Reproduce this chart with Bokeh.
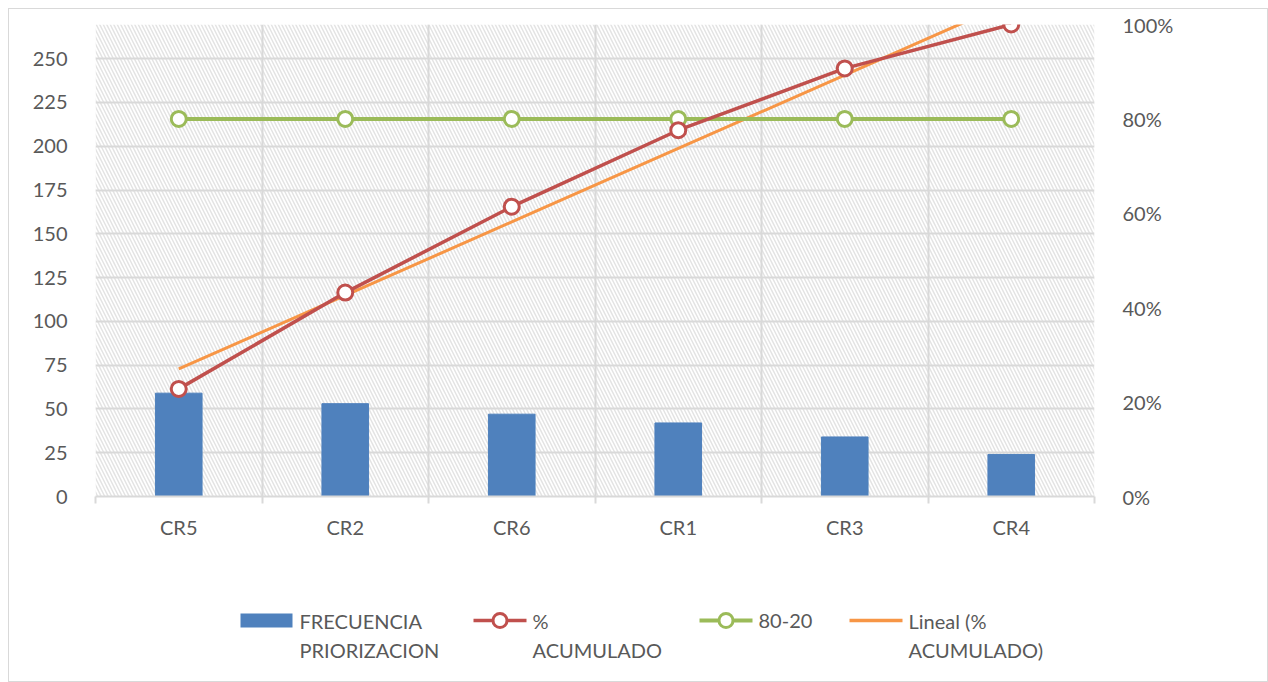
from bokeh.plotting import figure
from bokeh.layouts import column
from bokeh.models import (Range1d, LinearAxis, FixedTicker, NumeralTickFormatter,
                          BoxAnnotation, ColumnDataSource)
from bokeh.core.properties import value
from bokeh.embed import file_html
from bokeh.resources import INLINE

categories = ["CR5", "CR2", "CR6", "CR1", "CR3", "CR4"]
frecuencia = [59, 53, 47, 42, 34, 24]
pct_acumulado = [0.228, 0.432, 0.614, 0.776, 0.907, 1.0]
regla_80_20 = [0.8, 0.8, 0.8, 0.8, 0.8, 0.8]
left_ticks = [0, 25, 50, 75, 100, 125, 150, 175, 200, 225, 250]
right_ticks = [0, 0.2, 0.4, 0.6, 0.8, 1.0]
legend_labels = [["FRECUENCIA", "PRIORIZACION"], ["%", "ACUMULADO"], ["80-20"],
                 ["Lineal (%", "ACUMULADO)"]]

n = len(categories)
xc = [i + 0.5 for i in range(n)]
bounds = list(range(n + 1))

# linear trendline of % acumulado (least squares on 1..n)
xs = list(range(1, n + 1))
mx = sum(xs) / n
my = sum(pct_acumulado) / n
slope = sum((a - mx) * (b - my) for a, b in zip(xs, pct_acumulado)) / sum((a - mx) ** 2 for a in xs)
icpt = my - slope * mx
trend = [icpt + slope * a for a in xs]

FONT = "Lato"
TXT = "#595959"
GRID = "#d9d9d9"
BLUE, RED, GREEN, ORANGE = "#4f81bd", "#c0504d", "#9bbb59", "#f79646"

W = 1258
H1 = 547
H2 = 125
BL, BR = 86, 173   # left / right borders around the plotting frame
FW = W - BL - BR

p = figure(width=W, height=H1, output_backend="svg", toolbar_location=None,
           x_range=Range1d(0, n), y_range=Range1d(0, 269.5),
           min_border_left=BL, min_border_right=BR, min_border_top=15, min_border_bottom=H1 - 15 - 472)
p.extra_y_ranges = {"pct": Range1d(0, 1)}
p.outline_line_color = None

hatch = BoxAnnotation(fill_color="white", fill_alpha=1, line_color=None,
                      hatch_pattern="\\", hatch_color="#e4e4e4", hatch_scale=7, hatch_weight=1.5)
hatch.level = "image"
p.add_layout(hatch)

# axes
p.xaxis.ticker = FixedTicker(ticks=xc, minor_ticks=bounds)
p.xaxis.major_label_overrides = {x: c for x, c in zip(xc, categories)}
p.xaxis.major_tick_line_color = None
p.xaxis.minor_tick_line_color = GRID
p.xaxis.minor_tick_line_width = 2
p.xaxis.minor_tick_out = 7
p.xaxis.minor_tick_in = 0
p.xaxis.axis_line_color = GRID
p.xaxis.axis_line_width = 2
p.xaxis.major_label_standoff = 11

p.yaxis.ticker = FixedTicker(ticks=left_ticks)
p.yaxis.axis_line_color = None
p.yaxis.major_tick_line_color = None
p.yaxis.minor_tick_line_color = None
p.yaxis.major_label_standoff = 22

ra = LinearAxis(y_range_name="pct", ticker=FixedTicker(ticks=right_ticks),
                formatter=NumeralTickFormatter(format="0%"))
ra.axis_line_color = None
ra.major_tick_line_color = None
ra.minor_tick_line_color = None
ra.major_label_standoff = 22
p.add_layout(ra, "right")

for ax in [p.xaxis[0], p.yaxis[0], ra]:
    ax.major_label_text_font = FONT
    ax.major_label_text_font_size = "20px"
    ax.major_label_text_color = TXT

p.xgrid.ticker = FixedTicker(ticks=bounds)
p.ygrid.ticker = FixedTicker(ticks=left_ticks)
for g in [p.xgrid[0], p.ygrid[0]]:
    g.grid_line_color = GRID
    g.grid_line_width = 2

src = ColumnDataSource(dict(x=xc, f=frecuencia, pa=pct_acumulado, r=regla_80_20, t=trend))

p.vbar(x="x", top="f", width=0.28, source=src, color=BLUE)
p.line(x="x", y="t", source=src, y_range_name="pct", line_color=ORANGE, line_width=3)
p.line(x="x", y="r", source=src, y_range_name="pct", line_color=GREEN, line_width=4)
p.scatter(x="x", y="r", source=src, y_range_name="pct", size=15, fill_color="white",
          line_color=GREEN, line_width=3)
p.line(x="x", y="pa", source=src, y_range_name="pct", line_color=RED, line_width=3.5)
p.scatter(x="x", y="pa", source=src, y_range_name="pct", size=15, fill_color="white",
          line_color=RED, line_width=3)

# ---- legend panel: a pixel-space figure below the chart (frame aligned with chart) ----
q = figure(width=W, height=H2, output_backend="svg", toolbar_location=None,
           x_range=Range1d(BL, BL + FW), y_range=Range1d(H2, 0),
           min_border_left=BL, min_border_right=BR, min_border_top=0, min_border_bottom=0,
           x_axis_type=None, y_axis_type=None)
q.outline_line_color = None
q.grid.visible = False

row1 = 64       # y of first text row inside legend panel
lh = 29         # line height
sw_x = [231, 464, 690, 840]   # swatch left edges (pixels from panel left)
sw_w = 53
kinds = ["bar", "line_marker", "line_marker", "line"]
colors = [BLUE, RED, GREEN, ORANGE]
for sx, kind, col, labs in zip(sw_x, kinds, colors, legend_labels):
    if kind == "bar":
        q.quad(left=[sx], right=[sx + sw_w - 1], top=[row1 - 7], bottom=[row1 + 7],
               fill_color=col, line_color=None)
    else:
        lw = 4 if col == GREEN else 3.5
        q.line(x=[sx, sx + sw_w], y=[row1, row1], line_color=col, line_width=lw)
        if kind == "line_marker":
            q.scatter(x=[sx + sw_w / 2], y=[row1], size=14, fill_color="white",
                      line_color=col, line_width=3)
    q.text(x=[sx + sw_w + 6] * len(labs), y=[row1 + i * lh for i in range(len(labs))],
           text=labs, text_font=value(FONT), text_font_size="20px", text_color=TXT,
           text_align="left", text_baseline="middle")

lay = column(p, q, spacing=0)
lay.styles = {"border": "1px solid #d9d9d9", "margin-left": "8px", "margin-top": "8px"}

open("out.html", "w").write(file_html(lay, INLINE))
